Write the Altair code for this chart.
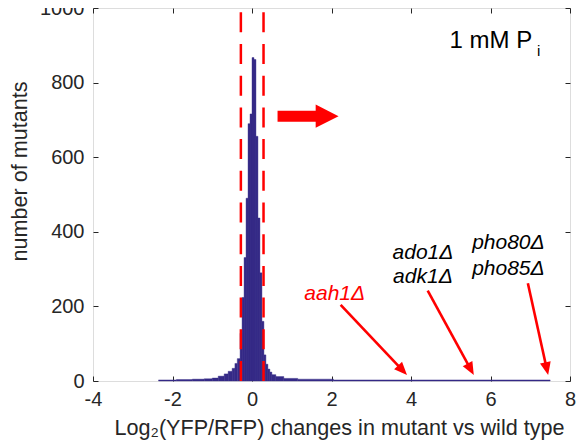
import altair as alt
import pandas as pd
import math

# ---------------- data ----------------
bin_start = [-2.35, -1.9, -1.5, -1.2, -1.0, -0.85, -0.7, -0.6, -0.5, -0.43, -0.37,
             -0.3, -0.25, -0.2, -0.15, -0.1, -0.05, 0.0, 0.05, 0.1, 0.15, 0.2,
             0.25, 0.3, 0.35, 0.4, 0.45, 0.5, 0.6, 0.8, 1.15, 2.05]
bin_end = [-1.9, -1.5, -1.2, -1.0, -0.85, -0.7, -0.6, -0.5, -0.43, -0.37, -0.3,
           -0.25, -0.2, -0.15, -0.1, -0.05, 0.0, 0.05, 0.1, 0.15, 0.2, 0.25,
           0.3, 0.35, 0.4, 0.45, 0.5, 0.6, 0.8, 1.15, 2.05, 7.5]
counts = [3, 4, 5, 6, 8, 13, 19, 26, 34, 47, 60,
          128, 224, 331, 490, 690, 716, 867, 862, 656, 437, 290,
          160, 70, 45, 32, 24, 17, 12, 7, 5, 3]

x_ticks = [-4, -2, 0, 2, 4, 6, 8]
y_ticks = [0, 200, 400, 600, 800, 1000]

threshold_x = [-0.28, 0.29]

# annotation labels (data coordinates)
label_text = ["aah1Δ", "ado1Δ", "adk1Δ", "pho80Δ", "pho85Δ"]
label_x = [2.08, 4.30, 4.30, 6.45, 6.45]
label_y = [217, 327, 263, 354, 284]
label_color = ["#FF0000", "#000000", "#000000", "#000000", "#000000"]

arrow_start_x = [2.23, 4.42, 6.94]
arrow_start_y = [204, 242, 262]
arrow_tip_x = [3.90, 5.58, 7.45]
arrow_tip_y = [16, 16, 16]

big_arrow_x = [1.41]
big_arrow_y = [710]

cond_x = [7.05]
cond_y = [893]
sub_x = [7.17]
sub_y = [871]

# ---------------- layout constants ----------------
W, H = 477, 373
PX_X = W / 12.0
PX_Y = H / 1000.0
FONT = "Liberation Sans"
NAVY = "#352A87"
RED = "#FF0000"
AX = "#262626"
TFS = 21.6

xscale = alt.Scale(domain=[-4, 8], nice=False, zero=False)
yscale = alt.Scale(domain=[0, 1000], nice=False, zero=False)

hist_df = pd.DataFrame({"start": bin_start, "end": bin_end, "count": counts,
                        "base": [0] * len(counts)})

bottom_axis = alt.Axis(values=x_ticks, offset=-5, tickSize=5, domain=False, grid=False,
                       tickColor=AX, labelColor=AX, labelFontSize=20, labelFont=FONT,
                       labelPadding=8, titleFont=FONT, titleFontSize=TFS,
                       labelExpr="toString(datum.value)",
                       titleFontWeight="normal", titleColor=AX, titlePadding=8,
                       titleX=246, labelFlush=False)
left_axis = alt.Axis(values=y_ticks, offset=-5, tickSize=5, domain=False, grid=False,
                     tickColor=AX, labelColor=AX, labelFontSize=20, labelFont=FONT,
                     labelPadding=9, titleFont=FONT, titleFontSize=TFS,
                     labelExpr="toString(datum.value)",
                     titleFontWeight="normal", titleColor=AX, titlePadding=8,
                     titleY=163, labelFlush=False)

hist = alt.Chart(hist_df).mark_bar(color=NAVY, stroke=NAVY, strokeWidth=0.4).encode(
    x=alt.X("start:Q", scale=xscale, axis=bottom_axis,
            title="Log₂(YFP/RFP) changes in mutant vs wild type"),
    x2="end:Q",
    y=alt.Y("count:Q", scale=yscale, axis=left_axis, title="number of mutants"),
    y2="base:Q",
)

# top / right tick-only axes
tick_df = pd.DataFrame({"tx": x_ticks[:6], "ty": y_ticks})
top_axis = alt.Axis(values=x_ticks, orient="top", offset=-5, tickSize=5, domain=False,
                    grid=False, labels=False, tickColor=AX)
right_axis = alt.Axis(values=y_ticks, orient="right", offset=-5, tickSize=5, domain=False,
                      grid=False, labels=False, tickColor=AX)
frame_axes = alt.Chart(tick_df).mark_point(opacity=0).encode(
    x=alt.X("tx:Q", scale=xscale, axis=top_axis, title=None),
    y=alt.Y("ty:Q", scale=yscale, axis=right_axis, title=None),
)

def X(field):
    return alt.X(field, scale=xscale, axis=None)

def Y(field):
    return alt.Y(field, scale=yscale, axis=None)

# dashed threshold lines
thr_df = pd.DataFrame({"x": threshold_x, "y0": [0, 0], "y1": [1000, 1000]})
thr = alt.Chart(thr_df).mark_rule(color=RED, strokeWidth=2.5, strokeDash=[20, 11.7]).encode(
    x=X("x:Q"), y=Y("y0:Q"), y2="y1:Q")

# big red arrow
big_path = "M-1,-0.18L0.25,-0.18L0.25,-0.38L1,0L0.25,0.38L0.25,0.18L-1,0.18Z"
big_df = pd.DataFrame({"x": big_arrow_x, "y": big_arrow_y})
big = alt.Chart(big_df).mark_point(shape=big_path, filled=True, color=RED, opacity=1,
                                   size=61 * 61, strokeWidth=0).encode(
    x=X("x:Q"), y=Y("y:Q"))

# thin annotation arrows
HEAD = 13.0
shaft_end_x, shaft_end_y, angles = [], [], []
for sx, sy, tx, ty in zip(arrow_start_x, arrow_start_y, arrow_tip_x, arrow_tip_y):
    dx = (tx - sx) * PX_X
    dy = -(ty - sy) * PX_Y
    L = math.hypot(dx, dy)
    ux, uy = dx / L, dy / L
    ex = tx - ux * HEAD * 0.6 / PX_X
    ey = ty + uy * HEAD * 0.6 / PX_Y
    shaft_end_x.append(ex)
    shaft_end_y.append(ey)
    angles.append(math.degrees(math.atan2(dx, -dy)))

arr_df = pd.DataFrame({"sx": arrow_start_x, "sy": arrow_start_y,
                       "ex": shaft_end_x, "ey": shaft_end_y,
                       "tx": arrow_tip_x, "ty": arrow_tip_y, "ang": angles})
shafts = alt.Chart(arr_df).mark_rule(color=RED, strokeWidth=2.6).encode(
    x=X("sx:Q"), y=Y("sy:Q"), x2="ex:Q", y2="ey:Q")
heads = alt.Chart(arr_df).mark_point(shape="M0,0L-0.42,1L0.42,1Z", filled=True, color=RED,
                                     opacity=1, size=676, strokeWidth=0).encode(
    x=X("tx:Q"), y=Y("ty:Q"), angle=alt.Angle("ang:Q", scale=None))

lab_df = pd.DataFrame({"t": label_text, "x": label_x, "y": label_y, "c": label_color})
labels = alt.Chart(lab_df).mark_text(font=FONT, fontSize=21, fontStyle="italic",
                                     align="center", baseline="alphabetic").encode(
    x=X("x:Q"), y=Y("y:Q"), text="t:N", color=alt.Color("c:N", scale=None))

cond_df = pd.DataFrame({"x": cond_x, "y": cond_y, "t": ["1 mM P"]})
cond = alt.Chart(cond_df).mark_text(font=FONT, fontSize=24, align="right",
                                    baseline="alphabetic", color="#000000").encode(
    x=X("x:Q"), y=Y("y:Q"), text="t:N")
sub_df = pd.DataFrame({"x": sub_x, "y": sub_y, "t": ["i"]})
sub = alt.Chart(sub_df).mark_text(font=FONT, fontSize=15, align="left",
                                  baseline="alphabetic", color="#000000").encode(
    x=X("x:Q"), y=Y("y:Q"), text="t:N")

chart = alt.layer(hist, frame_axes, thr, big, shafts, heads, labels, cond, sub).resolve_axis(
    x="independent", y="independent"
).properties(
    width=W, height=H,
    autosize=alt.AutoSizeParams(type="none"),
    padding={"left": 85, "top": 0, "right": 10, "bottom": 62},
).configure_view(stroke=AX, strokeWidth=1).configure(background="white")

chart.save("out.html", embed_options={"renderer": "svg", "actions": False})
